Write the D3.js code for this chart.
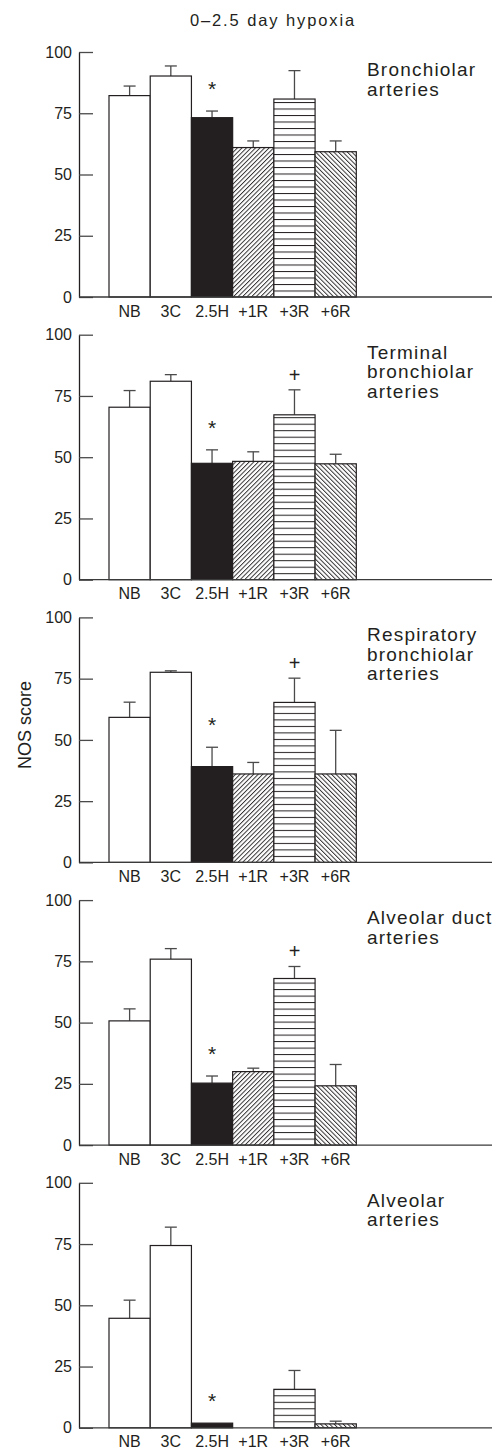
<!DOCTYPE html>
<html>
<head>
<meta charset="utf-8">
<script src="https://cdn.jsdelivr.net/npm/d3@7/dist/d3.min.js"></script>
<style>
  html, body { margin: 0; padding: 0; background: #fff; }
  svg { display: block; }
  text { font-family: "Liberation Sans", Arial, Helvetica, sans-serif; fill: #231f20; }
</style>
</head>
<body>
<svg id="chart" width="492" height="1450"></svg>
<script>
// ---------- data ----------
const title = "0–2.5 day hypoxia";
const yLabel = "NOS score";
const categories = ["NB", "3C", "2.5H", "+1R", "+3R", "+6R"];
const yTicks = [0, 25, 50, 75, 100];

const panelLabels = [
  ["Bronchiolar", "arteries"],
  ["Terminal", "bronchiolar", "arteries"],
  ["Respiratory", "bronchiolar", "arteries"],
  ["Alveolar duct", "arteries"],
  ["Alveolar", "arteries"]
];

const bronchiolarMeans = [82.2, 90.2, 73.2, 61.0, 80.8, 59.3];
const bronchiolarErr   = [3.9, 4.1, 2.7, 2.7, 11.6, 4.4];
const terminalMeans    = [70.4, 81.0, 47.5, 48.3, 67.3, 47.3];
const terminalErr      = [6.8, 2.7, 5.5, 3.9, 10.2, 3.9];
const respiratoryMeans = [59.2, 77.6, 39.1, 36.1, 65.3, 36.1];
const respiratoryErr   = [6.2, 0.6, 7.9, 4.7, 9.9, 17.8];
const ductMeans        = [50.7, 75.9, 25.3, 30.0, 68.0, 24.2];
const ductErr          = [4.9, 4.3, 2.9, 1.4, 4.9, 8.7];
const alveolarMeans    = [44.7, 74.4, 1.9, 0, 15.7, 1.6];
const alveolarErr      = [7.4, 7.5, 0, 0, 7.7, 1.1];

const panelMeans = [bronchiolarMeans, terminalMeans, respiratoryMeans, ductMeans, alveolarMeans];
const panelErrs  = [bronchiolarErr, terminalErr, respiratoryErr, ductErr, alveolarErr];

// significance markers: "*" vs newborn, "+" vs hypoxia
const starMarks = ["2.5H", "2.5H", "2.5H", "2.5H", "2.5H"];
const plusMarks = [null, "+3R", "+3R", "+3R", null];

// ---------- layout ----------
const svg = d3.select("#chart");
const axisX = 79;
const plotTop0 = 52;
const panelStep = 282.7;
const plotH = 245;
const ink = "#231f20";

const x = d3.scaleBand().domain(categories).range([109, 356.3]).padding(0);

const defs = svg.append("defs");

// title
svg.append("text")
  .attr("x", 273).attr("y", 26)
  .attr("text-anchor", "middle")
  .style("font-size", "16.5px")
  .style("letter-spacing", "1.9px")
  .text(title);

// y label
svg.append("text")
  .attr("transform", "translate(31,725) rotate(-90)")
  .attr("text-anchor", "middle")
  .style("font-size", "18px")
  .text(yLabel);

panelMeans.forEach((means, i) => {
  const top = plotTop0 + i * panelStep;
  const bottom = top + plotH;
  const y = d3.scaleLinear().domain([0, 100]).range([bottom, top]);

  // patterns for this panel
  const pF = defs.append("pattern")
    .attr("id", "fwd" + i).attr("patternUnits", "userSpaceOnUse")
    .attr("width", 3.2).attr("height", 10)
    .attr("patternTransform", "rotate(45)");
  pF.append("rect").attr("width", 3.2).attr("height", 10).attr("fill", "#fff");
  pF.append("line").attr("x1", 0.5).attr("x2", 0.5).attr("y1", 0).attr("y2", 10)
    .attr("stroke", ink).attr("stroke-width", 0.9);

  const pB = defs.append("pattern")
    .attr("id", "bck" + i).attr("patternUnits", "userSpaceOnUse")
    .attr("width", 3.2).attr("height", 10)
    .attr("patternTransform", "rotate(-45)");
  pB.append("rect").attr("width", 3.2).attr("height", 10).attr("fill", "#fff");
  pB.append("line").attr("x1", 0.5).attr("x2", 0.5).attr("y1", 0).attr("y2", 10)
    .attr("stroke", ink).attr("stroke-width", 0.9);

  const pH = defs.append("pattern")
    .attr("id", "hor" + i).attr("patternUnits", "userSpaceOnUse")
    .attr("x", 0).attr("y", bottom)
    .attr("width", 10).attr("height", 6.5);
  pH.append("rect").attr("width", 10).attr("height", 6.5).attr("fill", "#fff");
  pH.append("line").attr("x1", 0).attr("x2", 10).attr("y1", 0.5).attr("y2", 0.5)
    .attr("stroke", ink).attr("stroke-width", 1);

  const fills = ["#fff", "#fff", ink, `url(#fwd${i})`, `url(#hor${i})`, `url(#bck${i})`];

  const g = svg.append("g");

  const data = categories.map((c, k) => ({ cat: c, v: means[k], e: panelErrs[i][k], fill: fills[k] }));

  // error bars (upper only)
  const eb = g.append("g").attr("stroke", "#4a4a4a").attr("stroke-width", 1.3);
  data.filter(d => d.e > 0).forEach(d => {
    const cx = x(d.cat) + x.bandwidth() / 2;
    eb.append("line").attr("x1", cx).attr("x2", cx)
      .attr("y1", y(d.v)).attr("y2", y(d.v + d.e));
    eb.append("line").attr("x1", cx - 6).attr("x2", cx + 6)
      .attr("y1", y(d.v + d.e)).attr("y2", y(d.v + d.e));
  });

  // bars
  g.selectAll("rect.bar").data(data.filter(d => d.v > 0)).join("rect")
    .attr("class", "bar")
    .attr("x", d => x(d.cat))
    .attr("width", x.bandwidth())
    .attr("y", d => y(d.v))
    .attr("height", d => y(0) - y(d.v))
    .attr("fill", d => d.fill)
    .attr("stroke", ink)
    .attr("stroke-width", 1.2);

  // y axis
  const yAxis = d3.axisLeft(y).tickValues(yTicks).tickSizeInner(-14).tickSizeOuter(0).tickPadding(7);
  const ya = g.append("g").attr("transform", `translate(${axisX},0)`).call(yAxis);
  ya.select(".domain").attr("stroke", ink).attr("stroke-width", 1.3);
  ya.selectAll(".tick line").attr("stroke", "#4a4a4a").attr("stroke-width", 1.3);
  ya.selectAll(".tick text").style("font-size", "16px").attr("fill", ink)
    .style("font-family", "'Liberation Sans', Arial, sans-serif");

  // x axis baseline
  g.append("line").attr("x1", axisX).attr("x2", 492)
    .attr("y1", y(0)).attr("y2", y(0))
    .attr("stroke", "#3a3a3a").attr("stroke-width", 1.3);

  // x labels
  const xAxis = d3.axisBottom(x).tickSize(0).tickPadding(8.2);
  const xa = g.append("g").attr("transform", `translate(0,${y(0)})`).call(xAxis);
  xa.select(".domain").remove();
  xa.selectAll(".tick text").style("font-size", "16px").attr("fill", ink)
    .style("font-family", "'Liberation Sans', Arial, sans-serif");

  // panel label
  const pl = g.append("text").attr("x", 367).attr("y", top + 24)
    .style("font-size", "19px").style("letter-spacing", "1.2px");
  panelLabels[i].forEach((line, j) => {
    pl.append("tspan").attr("x", 367).attr("dy", j === 0 ? 0 : 19.5).text(line);
  });

  // significance markers
  if (starMarks[i]) {
    const k = categories.indexOf(starMarks[i]);
    const d = data[k];
    g.append("text")
      .attr("x", x(d.cat) + x.bandwidth() / 2)
      .attr("y", y(d.v + d.e) - 27 + 12)
      .attr("text-anchor", "middle")
      .style("font-size", "21px")
      .text("*");
  }
  if (plusMarks[i]) {
    const k = categories.indexOf(plusMarks[i]);
    const d = data[k];
    g.append("text")
      .attr("x", x(d.cat) + x.bandwidth() / 2)
      .attr("y", y(d.v + d.e) - 15 + 6.7)
      .attr("text-anchor", "middle")
      .style("font-size", "20px")
      .text("+");
  }
});
</script>
</body>
</html>
